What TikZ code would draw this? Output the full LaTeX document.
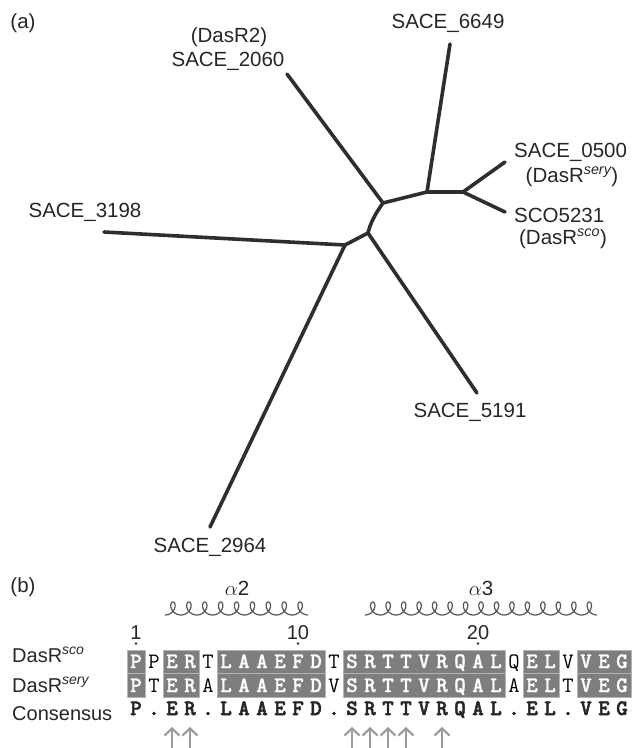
\documentclass[tikz,border=0pt]{standalone}
\usepackage{fontspec}
\setmainfont{Liberation Sans}
\newfontfamily\resmonob[FakeBold=1]{lmmonolt10-bold.otf}
\newfontfamily\resmonoc[FakeBold=2.2]{lmmonolt10-bold.otf}
\usetikzlibrary{arrows.meta}
\definecolor{treegray}{HTML}{2E2E2E}
\definecolor{boxgray}{HTML}{7E7E7E}
\definecolor{boxedge}{HTML}{B4B4B4}
\definecolor{arrowgray}{HTML}{9C9C9C}
\definecolor{coilgray}{HTML}{555555}
\tikzset{
  branch/.style={line width=3.6pt, draw=treegray, line cap=round, line join=round},
  lab/.style={font=\fontsize{20.5}{24}\selectfont, inner sep=0pt, text=black!85},
  seqlab/.style={font=\fontsize{20}{23}\selectfont, inner sep=0pt, anchor=base west, text=black!85},
  r0/.style={font={\ttfamily\fontsize{22}{24}\selectfont}, inner sep=0pt, anchor=base, text=black},
  r1/.style={font={\resmonob\fontsize{22}{24}\selectfont}, inner sep=0pt, anchor=base, text=white},
  cons/.style={font={\resmonoc\fontsize{22}{24}\selectfont}, inner sep=0pt, anchor=base, text=black!85},
  shadebox/.style={fill=boxgray, draw=boxedge, line width=0.8pt},
  contact/.style={draw=arrowgray, line width=2.2pt, -{Straight Barb[length=7pt,width=15pt]}},
  coilline/.style={draw=coilgray, line width=1.2pt},
  numlab/.style={font=\fontsize{20}{24}\selectfont, inner sep=0pt, anchor=base, text=black!85},
}
\begin{document}
\begin{tikzpicture}[x=1pt, y=-1pt]
\useasboundingbox (0,0) rectangle (635,748);
% ---------------- (a) tree ----------------
\node[lab] (pa) at (23,23) {(a)};
\coordinate (A) at (383,203);
\coordinate (B) at (427,192);
\coordinate (C) at (463,192);
\coordinate (D) at (368,233);
\coordinate (E) at (345,245);
\coordinate (t2060) at (287,74);
\coordinate (t6649) at (450,44);
\coordinate (t0500) at (505,162);
\coordinate (t5231) at (505,212);
\coordinate (t3198) at (104,232);
\coordinate (t5191) at (477,393);
\coordinate (t2964) at (210,527);
\draw[branch] (A) -- (t2060);
\draw[branch] (A) -- (B);
\draw[branch] (B) -- (t6649);
\draw[branch] (B) -- (C);
\draw[branch] (C) -- (t0500);
\draw[branch] (C) -- (t5231);
\draw[branch] (A) .. controls (375,214) and (370,224) .. (D);
\draw[branch] (D) -- (t5191);
\draw[branch] (D) -- (E);
\draw[branch] (E) -- (t3198);
\draw[branch] (E) -- (t2964);
\node[lab] (l2060a) at (229,37) {(DasR2)};
\node[lab] (l2060) at (228,61) {SACE\_2060};
\node[lab] (l6649) at (448,23) {SACE\_6649};
\node[lab, anchor=west] (l0500) at (514,152) {SACE\_0500};
\node[lab] (l0500b) at (572,177) {(DasR\textsuperscript{\itshape sery})};
\node[lab, anchor=west] (l5231) at (514,215) {SCO5231};
\node[lab] (l5231b) at (563,239) {(DasR\textsuperscript{\itshape sco})};
\node[lab] (l3198) at (85,212) {SACE\_3198};
\node[lab] (l5191) at (470,412) {SACE\_5191};
\node[lab] (l2964) at (210,547) {SACE\_2964};
% ---------------- (b) alignment ----------------
\node[lab] (pb) at (23,587) {(b)};
\node[lab] (ha2) at (237,588) {$\alpha$2};
\node[lab] (ha3) at (481,588) {$\alpha$3};
\draw[coilline] plot[domain=0:9, samples=300, smooth] ({165 + 15.9*\x + 5.6*sin(360*\x)}, {615 - 6.5*(1-cos(360*\x))});
\draw[coilline] plot[domain=0:15, samples=480, smooth] ({365 + 15.47*\x + 5.5*sin(360*\x)}, {615 - 6.5*(1-cos(360*\x))});
% residue numbers
\node[numlab] (n1) at (136,639) {1};
\node[numlab] (n10) at (298,639) {10};
\node[numlab] (n20) at (478,639) {20};
\fill[black!80] (136,643.5) circle (1.4);
\fill[black!80] (298,643.5) circle (1.4);
\fill[black!80] (478,643.5) circle (1.4);
% shaded blocks
\foreach \s/\e in {1/1, 3/4, 6/11, 13/21, 23/24, 26/28} {
  \draw[shadebox] ({127+18*(\s-1)},650) rectangle ({127+18*\e},673.5);
  \draw[shadebox] ({127+18*(\s-1)},673.5) rectangle ({127+18*\e},697);
}
% row labels
\node[seqlab] (lsco) at (12,662) {DasR\textsuperscript{\itshape sco}};
\node[seqlab] (lsery) at (12,692) {DasR\textsuperscript{\itshape sery}};
\node[seqlab] (lcons) at (12,720) {Consensus};
% residues
\foreach \c/\t [count=\i] in {P/1,P/0,E/1,R/1,T/0,L/1,A/1,A/1,E/1,F/1,D/1,T/0,S/1,R/1,T/1,T/1,V/1,R/1,Q/1,A/1,L/1,Q/0,E/1,L/1,V/0,V/1,E/1,G/1}
  \node[r\t] (sa\i) at ({118+18*\i},668) {\c};
\foreach \c/\t [count=\i] in {P/1,T/0,E/1,R/1,A/0,L/1,A/1,A/1,E/1,F/1,D/1,V/0,S/1,R/1,T/1,T/1,V/1,R/1,Q/1,A/1,L/1,A/0,E/1,L/1,T/0,V/1,E/1,G/1}
  \node[r\t] (sb\i) at ({118+18*\i},692) {\c};
\foreach \c [count=\i] in {P,.,E,R,.,L,A,A,E,F,D,.,S,R,T,T,V,R,Q,A,L,.,E,L,.,V,E,G}
  \node[cons] (sc\i) at ({118+18*\i},715) {\c};
% contact arrows
\foreach \k in {3,4,13,14,15,16,18} {
  \coordinate (ab\k) at ({118+18*\k},748);
  \coordinate (at\k) at ({118+18*\k},727);
  \draw[contact] (ab\k) -- (at\k);
}
\end{tikzpicture}
\end{document}
